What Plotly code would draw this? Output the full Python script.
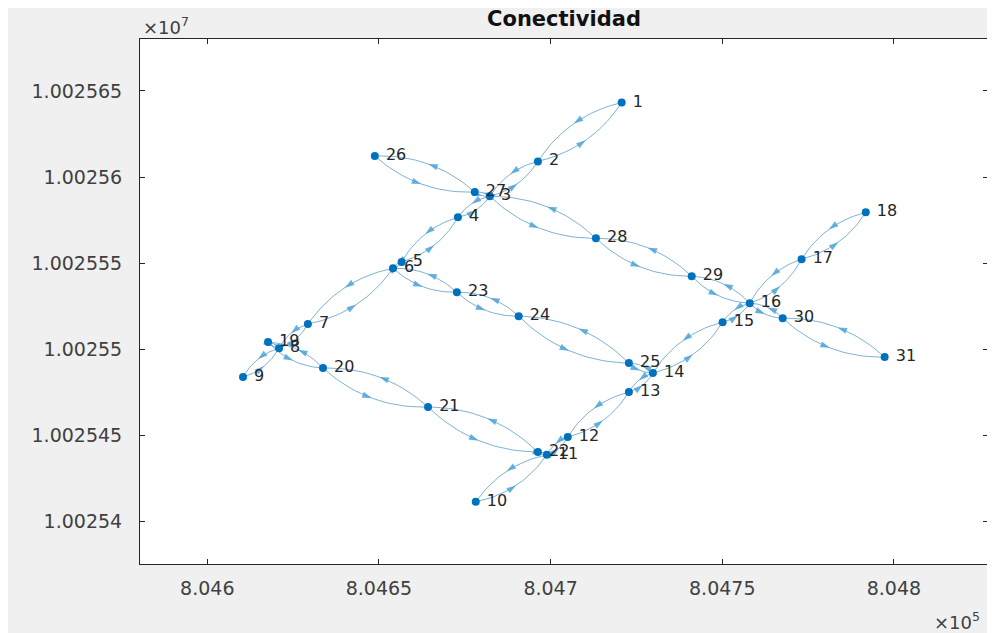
import math
import numpy as np
import plotly.graph_objects as go

# ---------------- data ----------------
node_ids = list(range(1, 32))
node_x = [804720.7, 804696.3, 804682.3, 804673.0, 804656.6, 804654.1, 804629.3, 804620.9,
          804610.4, 804678.2, 804698.9, 804705.0, 804722.8, 804729.8, 804750.1, 804758.0,
          804773.1, 804791.8, 804617.7, 804633.7, 804664.3, 804696.3, 804672.7, 804690.7,
          804722.8, 804648.8, 804677.9, 804713.2, 804741.1, 804767.6, 804797.3]
node_y = [10025643.3, 10025609.1, 10025588.8, 10025576.6, 10025550.7, 10025547.0, 10025514.6,
          10025500.6, 10025483.8, 10025411.3, 10025438.6, 10025449.0, 10025475.1, 10025486.1,
          10025515.7, 10025526.7, 10025552.3, 10025579.5, 10025504.1, 10025489.0, 10025466.4,
          10025440.3, 10025533.1, 10025519.2, 10025491.9, 10025612.2, 10025591.3, 10025564.4,
          10025542.4, 10025518.0, 10025495.4]

# each pair is connected in both directions
edge_source = [1, 2, 3, 4, 5, 6, 7, 8,
               10, 11, 12, 13, 14, 15, 16, 17,
               8, 19, 20, 21, 22,
               6, 23, 24, 25,
               26, 27, 3, 28, 29, 16, 30]
edge_target = [2, 3, 4, 5, 6, 7, 8, 9,
               11, 12, 13, 14, 15, 16, 17, 18,
               19, 20, 21, 22, 11,
               23, 24, 25, 14,
               27, 3, 28, 29, 16, 30, 31]

x_tick_vals = [804600, 804650, 804700, 804750, 804800]
x_tick_text = ["8.046", "8.0465", "8.047", "8.0475", "8.048"]
y_tick_vals = [10025400, 10025450, 10025500, 10025550, 10025600, 10025650]
y_tick_text = ["1.00254", "1.002545", "1.00255", "1.002555", "1.00256", "1.002565"]
x_range = [804580.4, 804827.4]
y_range = [10025375.2, 10025680.2]

title_text = "Conectividad"

# ---------------- geometry helpers ----------------
# page body has an 8px margin, so the figure is 8px smaller than the window
W, H = 987, 625
ML, MR, MT, MB = 132, 7, 31, 69
pw = W - ML - MR
ph = H - MT - MB
sx = pw / (x_range[1] - x_range[0])
sy = ph / (y_range[1] - y_range[0])

pos = {n: (x, y) for n, x, y in zip(node_ids, node_x, node_y)}
bulge = 0.2
tt = np.linspace(0, 1, 25)

ex, ey = [], []
axs, ays, angs = [], [], []
for s, g in zip(edge_source, edge_target):
    for a, b in ((s, g), (g, s)):
        x0, y0 = pos[a]
        x1, y1 = pos[b]
        X0, Y0 = (x0 - x_range[0]) * sx, (y0 - y_range[0]) * sy
        X1, Y1 = (x1 - x_range[0]) * sx, (y1 - y_range[0]) * sy
        dx, dy = X1 - X0, Y1 - Y0
        L = math.hypot(dx, dy)
        nx, ny = dy / L, -dx / L
        CX = (X0 + X1) / 2 + nx * bulge * L
        CY = (Y0 + Y1) / 2 + ny * bulge * L
        BX = (1 - tt) ** 2 * X0 + 2 * (1 - tt) * tt * CX + tt ** 2 * X1
        BY = (1 - tt) ** 2 * Y0 + 2 * (1 - tt) * tt * CY + tt ** 2 * Y1
        ex.extend(list(BX / sx + x_range[0]) + [None])
        ey.extend(list(BY / sy + y_range[0]) + [None])
        MX = 0.25 * X0 + 0.5 * CX + 0.25 * X1
        MY = 0.25 * Y0 + 0.5 * CY + 0.25 * Y1
        axs.append(MX / sx + x_range[0])
        ays.append(MY / sy + y_range[0])
        angs.append(math.degrees(math.atan2(dx, dy)))

fig = go.Figure()
fig.add_trace(go.Scatter(x=ex, y=ey, mode="lines",
                         line=dict(color="rgba(0,100,170,0.5)", width=1),
                         hoverinfo="skip", showlegend=False))
fig.add_trace(go.Scatter(x=axs, y=ays, mode="markers",
                         marker=dict(symbol="arrow", size=10, angle=angs,
                                     color="rgba(70,160,215,0.8)", line=dict(width=0)),
                         hoverinfo="skip", showlegend=False))
fig.add_trace(go.Scatter(x=node_x, y=node_y, mode="markers+text",
                         text=[" " + str(n) for n in node_ids],
                         textposition="middle right",
                         textfont=dict(family="DejaVu Sans", size=16, color="#262626"),
                         marker=dict(size=8, color="#0072BD"),
                         showlegend=False))

axis_common = dict(showgrid=False, zeroline=False, showline=True, linecolor="#262626",
                   linewidth=1, mirror="ticks", ticks="inside", ticklen=5,
                   tickcolor="#262626",
                   tickfont=dict(family="DejaVu Sans", size=19, color="#404040"))
fig.update_xaxes(range=x_range, tickvals=x_tick_vals, ticktext=x_tick_text,
                 ticklabelstandoff=7, **axis_common)
fig.update_yaxes(range=y_range, tickvals=y_tick_vals, ticktext=y_tick_text,
                 ticklabelstandoff=13, **axis_common)

fig.update_layout(
    width=W, height=H,
    margin=dict(l=ML, r=MR, t=MT, b=MB, autoexpand=False),
    paper_bgcolor="#f0f0f0", plot_bgcolor="white",
    title=dict(text="<b>" + title_text + "</b>", x=0.5, xref="paper",
               y=1 - 11 / H, yref="container", yanchor="middle", xanchor="center",
               font=dict(family="DejaVu Sans", size=21, color="#111111")),
    annotations=[
        dict(text="×10<sup>7</sup>", xref="paper", yref="paper", x=0, y=1,
             xanchor="left", yanchor="middle", xshift=1, yshift=13, showarrow=False,
             font=dict(family="DejaVu Sans", size=18, color="#404040")),
        dict(text="×10<sup>5</sup>", xref="paper", yref="paper", x=1, y=0,
             xanchor="right", yanchor="middle", xshift=-6, yshift=-57, showarrow=False,
             font=dict(family="DejaVu Sans", size=18, color="#404040")),
    ],
)

fig.write_html("out.html")
